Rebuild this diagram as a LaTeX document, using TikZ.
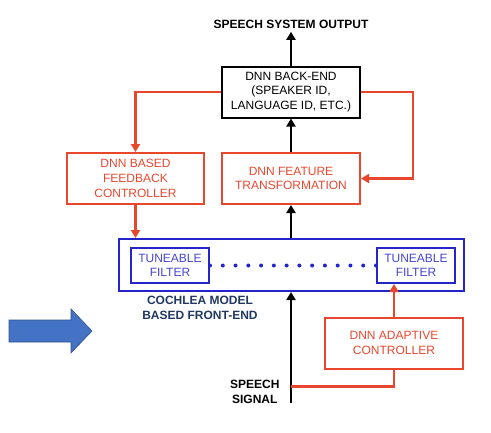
\documentclass[tikz,border=0pt]{standalone}
\usepackage{fontspec}
\setmainfont{Liberation Sans}
\usetikzlibrary{arrows.meta,positioning,calc}

\definecolor{fbred}{HTML}{E8472E}
\definecolor{feblue}{HTML}{2424C8}
\definecolor{lblnavy}{HTML}{203864}
\definecolor{bigblue}{HTML}{4472C4}
\definecolor{bigedge}{HTML}{2F528F}

\tikzset{
	box/.style={draw, line width=2pt, minimum width=138pt, minimum height=51pt, align=center, font=\fontsize{12}{14.8}\selectfont},
	redbox/.style={box, draw=fbred, text=fbred},
	filterbox/.style={draw=feblue, line width=2pt, minimum width=78pt, minimum height=35pt, inner sep=0pt, align=center, text=feblue!85!white, font=\fontsize{12}{14.3}\selectfont},
	flow/.style={line width=2.2pt, -{Triangle[length=8pt,width=9pt]}},
	feed/.style={flow, draw=fbred},
	caption/.style={align=center, font=\fontsize{12}{15}\selectfont\bfseries},
}

\begin{document}
\begin{tikzpicture}[x=1pt, y=-1pt]
	\useasboundingbox (0,0) rectangle (491,432);

	% blocks
	\node[caption] (out) at (291,24) {SPEECH SYSTEM OUTPUT};
	\node[box] (back) at (291,92) {DNN BACK-END\\(SPEAKER ID,\\LANGUAGE ID, ETC.)};
	\node[redbox, minimum width=137pt] (fb) at (135.5,178.5) {DNN BASED\\FEEDBACK\\CONTROLLER};
	\node[redbox] (feat) at (291,178.5) {DNN FEATURE\\TRANSFORMATION};
	\node[draw=feblue, line width=2pt, minimum width=345pt, minimum height=52pt] (front) at (291,265) {};
	\node[filterbox] (filtL) at (170,265.5) {TUNEABLE\\FILTER};
	\node[filterbox] (filtR) at (416,265.5) {TUNEABLE\\FILTER};
	\node[caption, text=lblnavy] (cochlea) at (200,307.5) {COCHLEA MODEL\\BASED FRONT-END};
	\node[redbox] (adapt) at (394,343) {DNN ADAPTIVE\\CONTROLLER};
	\node[caption, anchor=east] (signal) at (283,392) {SPEECH\\SIGNAL};
	\coordinate (src) at (291,403);
	\coordinate (tap) at (291,386.5);

	% filter bank
	\foreach \k in {0,...,13}
		\fill[feblue] ($(filtL.east)!\k/13!(filtR.west)$) circle (2pt);

	% main path
	\draw[flow] (src) -- (front.south);
	\draw[flow] (front.north) -- (feat.south);
	\draw[flow] (feat.north) -- (back.south);
	\draw[flow] (back.north) -- (out.south);

	% feedback loops
	\draw[feed] (back.west) -| (fb.north);
	\draw[feed] (fb.south) -- (fb.south |- front.north);
	\draw[feed] (back.east) -- ++(52,0) |- (feat.east);
	\draw[fbred, line width=2.2pt] (tap) -| (adapt.south);
	\draw[feed] (adapt.north) -- (adapt.north |- filtR.south);

	% big arrow
	\filldraw[fill=bigblue, draw=bigedge, line width=0.6pt] (9,320) -- (71,320) -- (71,309) -- (92,331) -- (71,353) -- (71,342) -- (9,342) -- cycle;
\end{tikzpicture}
\end{document}
